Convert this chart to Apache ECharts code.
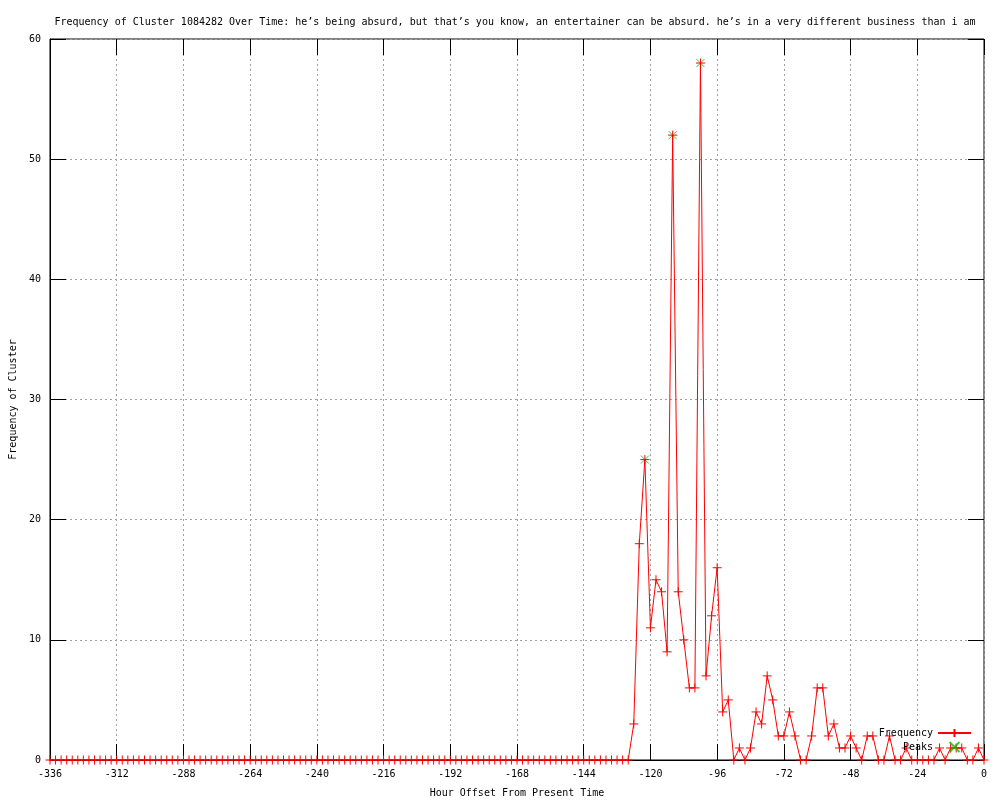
<!DOCTYPE html>
<html>
<head>
<meta charset="utf-8">
<script src="https://cdn.jsdelivr.net/npm/echarts@6/dist/echarts.min.js"></script>
<style>
html,body{margin:0;padding:0;background:#fff;}
#chart{width:1000px;height:800px;}
</style>
</head>
<body>
<div id="chart"></div>
<script>
const titleText = "Frequency of Cluster 1084282 Over Time: he\u2019s being absurd, but that\u2019s you know, an entertainer can be absurd. he\u2019s in a very different business than i am";
const xAxisName = "Hour Offset From Present Time";
const yAxisName = "Frequency of Cluster";

const hours = [
-336,-334,-332,-330,-328,-326,-324,-322,-320,-318,-316,-314,-312,-310,-308,-306,-304,-302,-300,-298,
-296,-294,-292,-290,-288,-286,-284,-282,-280,-278,-276,-274,-272,-270,-268,-266,-264,-262,-260,-258,
-256,-254,-252,-250,-248,-246,-244,-242,-240,-238,-236,-234,-232,-230,-228,-226,-224,-222,-220,-218,
-216,-214,-212,-210,-208,-206,-204,-202,-200,-198,-196,-194,-192,-190,-188,-186,-184,-182,-180,-178,
-176,-174,-172,-170,-168,-166,-164,-162,-160,-158,-156,-154,-152,-150,-148,-146,-144,-142,-140,-138,
-136,-134,-132,-130,-128,-126,-124,-122,-120,-118,-116,-114,-112,-110,-108,-106,-104,-102,-100,-98,
-96,-94,-92,-90,-88,-86,-84,-82,-80,-78,-76,-74,-72,-70,-68,-66,-64,-62,-60,-58,
-56,-54,-52,-50,-48,-46,-44,-42,-40,-38,-36,-34,-32,-30,-28,-26,-24,-22,-20,-18,
-16,-14,-12,-10,-8,-6,-4,-2,0
];
const frequency = [
0,0,0,0,0,0,0,0,0,0,0,0,0,0,0,0,0,0,0,0,
0,0,0,0,0,0,0,0,0,0,0,0,0,0,0,0,0,0,0,0,
0,0,0,0,0,0,0,0,0,0,0,0,0,0,0,0,0,0,0,0,
0,0,0,0,0,0,0,0,0,0,0,0,0,0,0,0,0,0,0,0,
0,0,0,0,0,0,0,0,0,0,0,0,0,0,0,0,0,0,0,0,
0,0,0,0,0,3,18,25,11,15,14,9,52,14,10,6,6,58,7,12,
16,4,5,0,1,0,1,4,3,7,5,2,2,4,2,0,0,2,6,6,
2,3,1,1,2,1,0,2,2,0,0,2,0,0,1,0,0,0,0,0,
1,0,1,1,1,0,0,1,0
];
const peakHours = [-122, -112, -102];
const peakValues = [25, 52, 58];

const xTicks = {min: -336, max: 0, interval: 24};
const yTicks = {min: 0, max: 60, interval: 10};

const FONT = "DejaVu Sans Mono";
const plusPath = 'path://M0,4L8,4M4,0L4,8';
const crossPath = 'path://M0,0L8,8M8,0L0,8';

const freqData = hours.map((h, i) => [h, frequency[i]]);
const peakData = peakHours.map((h, i) => [h, peakValues[i]]);

const chart = echarts.init(document.getElementById('chart'), null, {renderer: 'canvas'});
function tickStyle() { return {show: true, inside: true, length: 16, lineStyle: {color: '#000', width: 1}}; }
function gridLine() { return {show: true, lineStyle: {color: '#a0a0a0', width: 1, type: [2, 3]}}; }
const labelStyle = {fontFamily: FONT, fontSize: 10, color: '#000'};

chart.setOption({
  animation: false,
  backgroundColor: '#fff',
  title: {
    text: titleText,
    left: 510, top: 12, textAlign: 'center',
    textStyle: {fontFamily: FONT, fontSize: 10, fontWeight: 'normal', color: '#000'}
  },
  grid: {left: 50, right: 16, top: 39, bottom: 40, show: true, borderColor: '#000', borderWidth: 1,
         backgroundColor: 'transparent', containLabel: false, outerBoundsMode: 'none'},
  legend: {
    orient: 'vertical', align: 'right', right: 28, bottom: 47,
    itemWidth: 33, itemHeight: 10, itemGap: 3, padding: 0,
    textStyle: labelStyle,
    data: ['Frequency', 'Peaks']
  },
  xAxis: [{
    type: 'value', position: 'bottom', min: xTicks.min, max: xTicks.max, interval: xTicks.interval,
    axisLine: {show: true, onZero: false, lineStyle: {color: '#000'}},
    axisTick: tickStyle(),
    axisLabel: Object.assign({margin: 9}, labelStyle),
    splitLine: gridLine(),
    name: xAxisName, nameLocation: 'middle', nameGap: 28, nameTextStyle: labelStyle
  }, {
    type: 'value', position: 'top', min: xTicks.min, max: xTicks.max, interval: xTicks.interval,
    axisLine: {show: false, onZero: false}, axisTick: tickStyle(), axisLabel: {show: false}, splitLine: {show: false}
  }],
  yAxis: [{
    type: 'value', position: 'left', min: yTicks.min, max: yTicks.max, interval: yTicks.interval,
    axisLine: {show: true, onZero: false, lineStyle: {color: '#000'}},
    axisTick: tickStyle(),
    axisLabel: Object.assign({margin: 9}, labelStyle),
    splitLine: gridLine(),
    name: yAxisName, nameLocation: 'middle', nameGap: 32, nameRotate: 90, nameTextStyle: labelStyle
  }, {
    type: 'value', position: 'right', min: yTicks.min, max: yTicks.max, interval: yTicks.interval,
    axisLine: {show: false, onZero: false}, axisTick: tickStyle(), axisLabel: {show: false}, splitLine: {show: false}
  }],
  series: [{
    name: 'Frequency', type: 'line', data: freqData,
    xAxisIndex: 0, yAxisIndex: 0,
    lineStyle: {color: '#ff0000', width: 1},
    symbol: plusPath, symbolSize: 9, showAllSymbol: true,
    itemStyle: {color: '#ff0000', borderColor: '#ff0000', borderWidth: 1},
    clip: false, z: 3
  }, {
    name: 'Peaks', type: 'scatter', data: peakData,
    xAxisIndex: 0, yAxisIndex: 0,
    symbol: crossPath, symbolSize: 8,
    itemStyle: {color: '#00c000', borderColor: '#00c000', borderWidth: 1},
    z: 2
  }]
});
</script>
</body>
</html>
